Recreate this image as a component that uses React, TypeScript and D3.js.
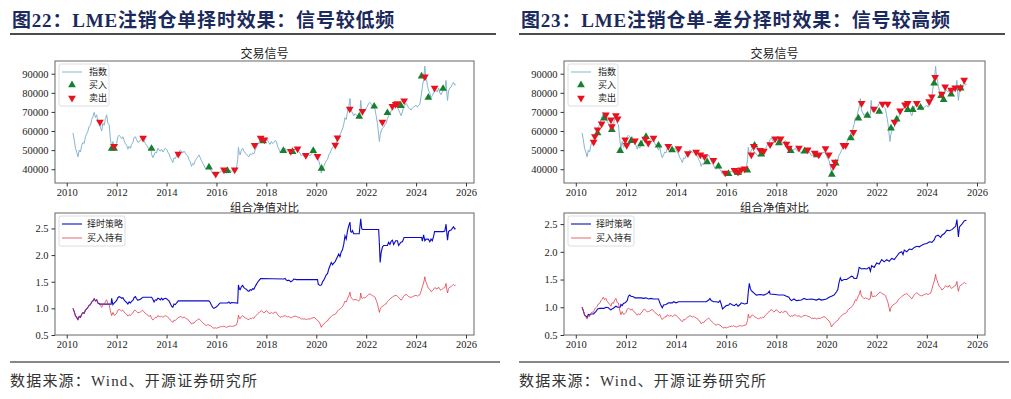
import React, { useEffect, useRef } from 'react'
import * as d3 from 'd3'

const W = 1011
const H = 399

// LME copper index, [year, price]
const copperIndex: [number, number][] = [
  [2010.25, 59000], [2010.30, 55500], [2010.35, 51000], [2010.40, 49000], [2010.45, 46500], [2010.50, 50000],
  [2010.55, 49000], [2010.60, 52500], [2010.65, 54000], [2010.70, 53500], [2010.75, 57000], [2010.80, 58500],
  [2010.85, 60000], [2010.90, 62500], [2010.95, 63000], [2011.00, 66000], [2011.05, 67500], [2011.10, 69800],
  [2011.15, 67000], [2011.20, 68500], [2011.25, 65000], [2011.30, 64000], [2011.35, 62000], [2011.40, 60000],
  [2011.45, 64000], [2011.50, 63000], [2011.55, 66500], [2011.60, 68500], [2011.65, 64000], [2011.70, 63500],
  [2011.75, 56000], [2011.80, 51000], [2011.85, 54500], [2011.90, 51500], [2011.95, 52000], [2012.00, 53500],
  [2012.05, 57000], [2012.10, 57800], [2012.15, 57000], [2012.20, 56000], [2012.25, 57000], [2012.30, 55000],
  [2012.35, 53500], [2012.40, 52500], [2012.45, 50500], [2012.50, 52000], [2012.55, 51000], [2012.60, 53000],
  [2012.65, 54000], [2012.70, 56500], [2012.75, 57000], [2012.80, 55500], [2012.85, 54000], [2012.90, 54500],
  [2012.95, 55000], [2013.00, 56000], [2013.05, 56800], [2013.10, 55000], [2013.15, 53500], [2013.20, 52500],
  [2013.25, 51500], [2013.30, 50000], [2013.35, 51500], [2013.40, 48000], [2013.45, 46000], [2013.50, 47500],
  [2013.55, 49000], [2013.60, 48500], [2013.65, 51000], [2013.70, 50000], [2013.75, 49500], [2013.80, 50500],
  [2013.85, 49000], [2013.90, 50000], [2013.95, 51000], [2014.00, 50500], [2014.05, 49000], [2014.10, 48000],
  [2014.15, 46000], [2014.20, 45000], [2014.25, 43500], [2014.30, 46000], [2014.35, 45500], [2014.40, 47000],
  [2014.45, 48500], [2014.50, 49000], [2014.55, 50000], [2014.60, 49500], [2014.65, 48500], [2014.70, 49500],
  [2014.75, 48500], [2014.80, 47500], [2014.85, 47000], [2014.90, 45000], [2014.95, 44000], [2015.00, 41500],
  [2015.05, 43000], [2015.10, 42500], [2015.15, 44500], [2015.20, 45500], [2015.25, 46500], [2015.30, 47500],
  [2015.35, 46000], [2015.40, 44500], [2015.45, 43000], [2015.50, 42000], [2015.55, 40500], [2015.60, 40000],
  [2015.65, 41000], [2015.70, 40500], [2015.75, 40000], [2015.80, 39000], [2015.85, 37500], [2015.90, 37000],
  [2015.95, 37500], [2016.00, 37000], [2016.05, 37500], [2016.10, 38000], [2016.15, 38500], [2016.20, 39000],
  [2016.25, 38500], [2016.30, 39500], [2016.35, 38500], [2016.40, 38000], [2016.45, 38500], [2016.50, 39000],
  [2016.55, 39500], [2016.60, 39000], [2016.65, 39200], [2016.70, 39500], [2016.75, 40000], [2016.80, 40500],
  [2016.85, 45000], [2016.88, 51500], [2016.92, 48000], [2016.95, 47500], [2017.00, 50000], [2017.05, 51000],
  [2017.10, 49500], [2017.15, 48500], [2017.20, 48000], [2017.25, 47000], [2017.30, 46500], [2017.35, 48000],
  [2017.40, 47500], [2017.45, 48500], [2017.50, 48000], [2017.55, 50000], [2017.60, 51500], [2017.65, 53000],
  [2017.70, 54000], [2017.75, 55500], [2017.80, 56500], [2017.85, 55000], [2017.90, 54000], [2017.95, 55000],
  [2018.00, 56500], [2018.05, 55000], [2018.10, 54000], [2018.15, 53000], [2018.20, 54500], [2018.25, 53500],
  [2018.30, 54000], [2018.35, 55000], [2018.40, 54500], [2018.45, 52000], [2018.50, 50500], [2018.55, 49000],
  [2018.60, 50000], [2018.65, 49500], [2018.70, 50500], [2018.75, 51000], [2018.80, 50000], [2018.85, 49500],
  [2018.90, 50000], [2018.95, 49000], [2019.00, 48500], [2019.05, 49500], [2019.10, 50000], [2019.15, 50500],
  [2019.20, 50000], [2019.25, 49500], [2019.30, 49000], [2019.35, 48500], [2019.40, 47000], [2019.45, 47500],
  [2019.50, 47000], [2019.55, 47500], [2019.60, 46500], [2019.65, 47000], [2019.70, 47500], [2019.75, 47000],
  [2019.80, 48000], [2019.85, 48500], [2019.90, 49000], [2019.95, 48500], [2020.00, 47000], [2020.05, 45500],
  [2020.10, 44500], [2020.15, 42000], [2020.20, 38000], [2020.25, 40500], [2020.30, 41500], [2020.35, 43000],
  [2020.40, 44500], [2020.45, 45000], [2020.50, 47500], [2020.55, 48500], [2020.60, 50000], [2020.65, 51500],
  [2020.70, 52000], [2020.75, 52500], [2020.80, 53500], [2020.85, 56000], [2020.90, 57500], [2020.95, 58000],
  [2021.00, 59500], [2021.05, 61000], [2021.10, 63500], [2021.15, 67000], [2021.20, 66000], [2021.25, 70000],
  [2021.30, 72500], [2021.35, 77000], [2021.38, 72000], [2021.42, 70000], [2021.45, 69500], [2021.50, 68000],
  [2021.55, 69000], [2021.60, 68500], [2021.65, 68000], [2021.70, 67000], [2021.75, 69000], [2021.78, 76000],
  [2021.82, 70500], [2021.85, 70000], [2021.90, 71000], [2021.95, 70500], [2022.00, 72000], [2022.05, 73000],
  [2022.10, 74500], [2022.15, 75000], [2022.20, 74000], [2022.25, 73000], [2022.30, 72500], [2022.35, 71500],
  [2022.40, 68000], [2022.45, 64000], [2022.50, 58000], [2022.53, 54500], [2022.56, 58000], [2022.60, 60000],
  [2022.65, 61500], [2022.70, 62000], [2022.75, 63500], [2022.80, 64000], [2022.85, 66500], [2022.90, 68000],
  [2022.95, 69000], [2023.00, 70500], [2023.05, 71500], [2023.10, 72500], [2023.15, 73000], [2023.20, 73500],
  [2023.25, 72500], [2023.30, 71000], [2023.35, 69500], [2023.40, 68000], [2023.45, 70000], [2023.50, 72500],
  [2023.55, 73500], [2023.60, 74500], [2023.65, 73500], [2023.70, 72000], [2023.75, 71500], [2023.80, 71000],
  [2023.85, 72000], [2023.90, 72500], [2023.95, 73000], [2024.00, 73500], [2024.05, 72500], [2024.10, 73500],
  [2024.15, 74000], [2024.20, 78000], [2024.25, 83000], [2024.30, 87000], [2024.35, 94000], [2024.38, 89000],
  [2024.42, 87000], [2024.45, 84000], [2024.50, 81000], [2024.55, 80000], [2024.60, 77500], [2024.65, 78500],
  [2024.70, 80000], [2024.75, 82000], [2024.80, 81000], [2024.85, 80500], [2024.90, 82500], [2024.95, 80000],
  [2025.00, 79000], [2025.05, 80500], [2025.10, 81500], [2025.15, 82000], [2025.20, 86500], [2025.23, 80000],
  [2025.26, 76000], [2025.30, 81000], [2025.35, 82500], [2025.40, 83000], [2025.45, 84500], [2025.50, 85500],
  [2025.55, 84000], [2025.58, 84500],
]

// low-frequency signals (figure 22)
const buyLow: [number, number][] = [
  [2011.8, 50800], [2011.9, 50800], [2013.4, 50800], [2015.7, 41000], [2016.44, 39200], [2017.87, 54800],
  [2018.68, 49700], [2019.05, 49200], [2019.88, 49700], [2020.21, 40400], [2021.72, 67600], [2022.32, 72900],
  [2022.85, 69500], [2023.39, 73200], [2024.22, 88700], [2024.49, 77500], [2025.08, 82200],
]
const sellLow: [number, number][] = [
  [2011.33, 64700], [2011.9, 52000], [2013.06, 56300], [2014.47, 48000], [2015.97, 37500], [2016.3, 39700],
  [2016.73, 39700], [2017.53, 52500], [2017.77, 56300], [2017.92, 55400], [2018.98, 49400], [2019.25, 50700],
  [2019.58, 47300], [2020.05, 46800], [2020.76, 52700], [2020.85, 56500], [2021.34, 71600], [2021.85, 70400],
  [2022.65, 64700], [2023.05, 73000], [2023.18, 74000], [2023.25, 74400], [2023.52, 75900], [2024.35, 88400],
  [2024.74, 82500],
]

// high-frequency signals (figure 23)
const buyHigh: [number, number][] = [
  [2010.87, 58900], [2011.13, 66700], [2011.44, 60700], [2011.77, 49700], [2012.21, 54900], [2012.6, 53200],
  [2012.8, 57000], [2013.3, 52500], [2013.84, 50100], [2015.24, 43800], [2015.69, 41600], [2016.09, 37600],
  [2016.47, 38100], [2016.84, 39500], [2017.13, 52500], [2017.4, 47800], [2018.1, 53700], [2018.57, 49700],
  [2019.12, 49400], [2019.61, 47400], [2020.21, 37200], [2020.37, 43100], [2020.97, 56300], [2021.27, 66700],
  [2021.63, 68100], [2022.1, 70200], [2022.57, 61500], [2022.8, 66200], [2023.24, 71100], [2023.44, 71100],
  [2023.75, 72300], [2024.29, 85000], [2024.57, 78500], [2024.67, 76300], [2024.97, 79200], [2025.35, 82400],
]
const sellHigh: [number, number][] = [
  [2010.71, 54200], [2010.76, 57200], [2010.87, 60700], [2011.03, 63800], [2011.2, 68500], [2011.4, 65900],
  [2011.44, 62400], [2011.6, 68100], [2011.67, 66400], [2011.97, 55400], [2012.03, 52500], [2012.36, 54900],
  [2012.77, 55800], [2012.89, 53700], [2013.1, 56300], [2013.69, 52000], [2014.1, 50800], [2014.47, 48200],
  [2014.8, 49000], [2014.97, 47600], [2015.13, 46700], [2015.49, 44700], [2015.96, 38100], [2016.33, 39500],
  [2016.47, 38600], [2016.6, 39800], [2016.73, 40300], [2017.0, 47600], [2017.1, 52000], [2017.35, 50000],
  [2017.5, 49500], [2017.75, 53000], [2017.95, 56000], [2018.17, 56000], [2018.4, 53200], [2018.5, 51100],
  [2018.9, 51100], [2019.25, 50200], [2019.53, 48500], [2019.69, 47600], [2019.96, 50800], [2020.09, 47600],
  [2020.27, 41600], [2020.33, 43800], [2020.67, 52500], [2020.76, 52500], [2021.07, 59400], [2021.4, 74500],
  [2021.89, 71600], [2022.23, 74200], [2022.44, 74200], [2022.71, 64700], [2022.93, 70600], [2023.13, 73700],
  [2023.24, 74500], [2023.6, 74500], [2024.09, 75400], [2024.2, 78000], [2024.33, 88100], [2024.6, 79400],
  [2024.73, 83200], [2024.97, 81500], [2025.13, 82700], [2025.33, 82700], [2025.49, 86700],
]

// strategy net value, [year, nav]
const navLow: [number, number][] = [
  [2010.25, 1.0], [2010.30, 0.94], [2010.35, 0.86], [2010.40, 0.83], [2010.45, 0.79], [2010.50, 0.85],
  [2010.55, 0.83], [2010.60, 0.89], [2010.65, 0.92], [2010.70, 0.91], [2010.75, 0.97], [2010.80, 0.99],
  [2010.85, 1.02], [2010.90, 1.06], [2010.95, 1.07], [2011.00, 1.12], [2011.05, 1.14], [2011.10, 1.18],
  [2011.15, 1.14], [2011.20, 1.16], [2011.25, 1.10], [2011.33, 1.08], [2011.78, 1.08], [2011.80, 1.19],
  [2011.85, 1.07], [2011.90, 1.10], [2011.95, 1.12], [2012.00, 1.15], [2012.05, 1.20], [2012.10, 1.22],
  [2012.15, 1.21], [2012.20, 1.19], [2012.25, 1.20], [2012.30, 1.16], [2012.35, 1.13], [2012.40, 1.11],
  [2012.45, 1.08], [2012.50, 1.12], [2012.55, 1.10], [2012.60, 1.13], [2012.65, 1.15], [2012.70, 1.20],
  [2012.75, 1.22], [2012.80, 1.18], [2012.85, 1.15], [2012.90, 1.16], [2012.95, 1.17], [2013.00, 1.19],
  [2013.06, 1.21], [2013.40, 1.21], [2013.45, 1.17], [2013.50, 1.12], [2013.55, 1.16], [2013.60, 1.15],
  [2013.65, 1.19], [2013.70, 1.18], [2013.75, 1.16], [2013.80, 1.19], [2013.85, 1.16], [2013.90, 1.18],
  [2013.95, 1.19], [2014.00, 1.18], [2014.05, 1.16], [2014.10, 1.14], [2014.15, 1.09], [2014.20, 1.04],
  [2014.25, 1.02], [2014.30, 1.08], [2014.35, 1.07], [2014.40, 1.10], [2014.47, 1.14], [2015.70, 1.14],
  [2015.75, 1.11], [2015.80, 1.06], [2015.85, 1.02], [2015.90, 1.00], [2015.97, 1.02], [2016.00, 1.03],
  [2016.05, 1.05], [2016.10, 1.08], [2016.15, 1.10], [2016.44, 1.10], [2016.50, 1.12], [2016.55, 1.09],
  [2016.60, 1.11], [2016.85, 1.10], [2016.88, 1.44], [2016.92, 1.36], [2016.95, 1.35], [2017.00, 1.41],
  [2017.05, 1.43], [2017.10, 1.39], [2017.15, 1.37], [2017.20, 1.36], [2017.25, 1.33], [2017.30, 1.32],
  [2017.35, 1.35], [2017.40, 1.34], [2017.45, 1.37], [2017.50, 1.36], [2017.55, 1.41], [2017.60, 1.45],
  [2017.65, 1.49], [2017.70, 1.52], [2017.77, 1.56], [2018.70, 1.55], [2018.75, 1.56], [2018.80, 1.53],
  [2018.85, 1.52], [2018.90, 1.53], [2018.98, 1.50], [2019.05, 1.52], [2019.10, 1.55], [2019.20, 1.54],
  [2020.05, 1.54], [2020.08, 1.45], [2020.15, 1.43], [2020.21, 1.44], [2020.25, 1.50], [2020.30, 1.53],
  [2020.35, 1.58], [2020.40, 1.63], [2020.45, 1.65], [2020.50, 1.74], [2020.55, 1.80], [2020.60, 1.86],
  [2020.65, 1.82], [2020.70, 1.85], [2020.75, 1.87], [2020.80, 1.92], [2020.85, 1.97], [2020.90, 2.02],
  [2020.95, 1.97], [2021.00, 2.06], [2021.05, 2.10], [2021.10, 2.20], [2021.15, 2.36], [2021.20, 2.30],
  [2021.25, 2.45], [2021.30, 2.55], [2021.35, 2.62], [2021.38, 2.44], [2021.42, 2.43], [2021.45, 2.46],
  [2021.50, 2.40], [2021.72, 2.40], [2021.78, 2.68], [2021.82, 2.50], [2021.85, 2.48], [2022.50, 2.48],
  [2022.53, 2.20], [2022.56, 1.86], [2022.60, 2.05], [2022.65, 2.15], [2022.70, 2.18], [2022.85, 2.18],
  [2022.90, 2.24], [2022.95, 2.20], [2023.00, 2.26], [2023.05, 2.28], [2023.10, 2.20], [2023.18, 2.27],
  [2023.25, 2.27], [2023.30, 2.18], [2023.39, 2.24], [2023.45, 2.25], [2023.52, 2.33], [2024.22, 2.33],
  [2024.25, 2.26], [2024.30, 2.38], [2024.35, 2.27], [2024.40, 2.30], [2024.49, 2.30], [2024.55, 2.25],
  [2024.60, 2.30], [2024.65, 2.27], [2024.70, 2.35], [2024.74, 2.44], [2025.08, 2.44], [2025.15, 2.45],
  [2025.20, 2.58], [2025.23, 2.42], [2025.26, 2.28], [2025.30, 2.44], [2025.35, 2.46], [2025.40, 2.47],
  [2025.45, 2.50], [2025.50, 2.53], [2025.55, 2.49], [2025.58, 2.50],
]
const navHigh: [number, number][] = [
  [2010.25, 1.0], [2010.30, 0.94], [2010.35, 0.86], [2010.40, 0.84], [2010.45, 0.82], [2010.50, 0.87],
  [2010.55, 0.86], [2010.60, 0.88], [2010.71, 0.88], [2010.75, 0.90], [2010.80, 0.92], [2010.87, 0.97],
  [2010.95, 0.98], [2011.13, 0.98], [2011.20, 1.00], [2011.30, 0.99], [2011.40, 0.95], [2011.44, 0.97],
  [2011.50, 0.98], [2011.55, 1.00], [2011.60, 1.02], [2011.67, 1.00], [2011.77, 1.00], [2011.80, 1.05],
  [2011.85, 1.03], [2011.90, 1.07], [2011.97, 1.08], [2012.05, 1.12], [2012.10, 1.20], [2012.15, 1.22],
  [2012.20, 1.20], [2012.30, 1.19], [2012.36, 1.17], [2012.60, 1.17], [2012.70, 1.16], [2012.80, 1.17],
  [2012.90, 1.15], [2013.00, 1.16], [2013.10, 1.15], [2013.30, 1.15], [2013.35, 1.08], [2013.40, 1.03],
  [2013.45, 0.99], [2013.50, 1.04], [2013.60, 1.05], [2013.70, 1.08], [2013.85, 1.08], [2013.90, 1.10],
  [2014.00, 1.08], [2014.10, 1.10], [2015.20, 1.10], [2015.30, 1.13], [2015.35, 1.16], [2015.40, 1.12],
  [2015.50, 1.10], [2015.60, 1.10], [2015.69, 1.09], [2015.75, 1.12], [2015.80, 1.06], [2015.85, 0.97],
  [2015.90, 0.99], [2016.00, 1.03], [2016.10, 1.04], [2016.15, 1.07], [2016.25, 1.04], [2016.33, 1.03],
  [2016.40, 1.06], [2016.47, 1.02], [2016.55, 1.05], [2016.60, 1.08], [2016.73, 1.06], [2016.84, 1.07],
  [2016.88, 1.28], [2016.92, 1.43], [2016.96, 1.34], [2017.00, 1.30], [2017.05, 1.28], [2017.10, 1.26],
  [2017.20, 1.22], [2017.35, 1.23], [2017.50, 1.22], [2017.65, 1.25], [2017.72, 1.29], [2017.75, 1.24],
  [2017.95, 1.23], [2018.10, 1.22], [2018.30, 1.22], [2018.40, 1.20], [2018.50, 1.18], [2018.55, 1.14],
  [2018.60, 1.12], [2018.70, 1.15], [2018.80, 1.12], [2019.00, 1.13], [2019.10, 1.16], [2019.20, 1.14],
  [2019.40, 1.15], [2019.60, 1.13], [2019.70, 1.15], [2019.80, 1.13], [2020.00, 1.15], [2020.10, 1.18],
  [2020.20, 1.20], [2020.30, 1.22], [2020.40, 1.28], [2020.45, 1.32], [2020.50, 1.45], [2020.55, 1.53],
  [2020.60, 1.48], [2020.70, 1.50], [2020.80, 1.50], [2020.90, 1.53], [2021.00, 1.56], [2021.05, 1.55],
  [2021.10, 1.52], [2021.20, 1.52], [2021.25, 1.60], [2021.30, 1.72], [2021.40, 1.69], [2021.50, 1.70],
  [2021.60, 1.69], [2021.70, 1.72], [2021.75, 1.65], [2021.80, 1.75], [2021.90, 1.72], [2022.00, 1.80],
  [2022.10, 1.78], [2022.20, 1.86], [2022.30, 1.82], [2022.40, 1.86], [2022.50, 1.83], [2022.60, 1.88],
  [2022.70, 1.86], [2022.80, 1.92], [2022.90, 1.98], [2023.00, 2.00], [2023.05, 1.95], [2023.10, 2.03],
  [2023.20, 2.00], [2023.30, 2.05], [2023.40, 2.04], [2023.50, 2.08], [2023.60, 2.10], [2023.70, 2.09],
  [2023.80, 2.12], [2023.90, 2.14], [2024.00, 2.15], [2024.10, 2.18], [2024.20, 2.17], [2024.30, 2.22],
  [2024.35, 2.28], [2024.45, 2.30], [2024.55, 2.26], [2024.60, 2.30], [2024.70, 2.33], [2024.80, 2.39],
  [2024.90, 2.38], [2025.00, 2.40], [2025.10, 2.44], [2025.15, 2.46], [2025.20, 2.58], [2025.23, 2.42],
  [2025.26, 2.27], [2025.30, 2.45], [2025.40, 2.50], [2025.50, 2.56], [2025.58, 2.57],
]

// buy & hold = index normalised to its first value
const holdNav: [number, number][] = copperIndex.map(d => [d[0], d[1] / copperIndex[0][1]])

const yearTicks = [2010, 2012, 2014, 2016, 2018, 2020, 2022, 2024, 2026]
const priceTicks = [40000, 50000, 60000, 70000, 80000, 90000]
const navTicks = [0.5, 1.0, 1.5, 2.0, 2.5]
const signalTitle = '交易信号'
const navTitle = '组合净值对比'
const signalLegend = ['指数', '买入', '卖出']
const navLegend = ['择时策略', '买入持有']

const xDomain: [number, number] = [2009.53, 2026.32]
const priceDomain: [number, number] = [32800, 96650]

const SERIF = "'Liberation Serif', 'Noto Sans CJK SC', serif"
const CJK = "'Noto Sans CJK SC', sans-serif"
const indexColor = '#86b5cf'
const buyColor = '#17802e'
const sellColor = '#e8121e'
const stratColor = '#0a0ac8'
const holdColor = 'rgba(226,50,66,0.75)'

function Axis({ scale, orient, ticks, y, x, fmt }: any) {
  const ref = useRef<SVGGElement>(null)
  useEffect(() => {
    const gen = orient === 'left' ? d3.axisLeft(scale) : d3.axisBottom(scale)
    gen.tickValues(ticks).tickSizeInner(3.5).tickSizeOuter(0).tickPadding(orient === 'left' ? 3 : 2).tickFormat(fmt)
    const g = d3.select(ref.current!)
    g.call(gen as any)
    g.select('.domain').remove()
    g.attr('font-family', "'Liberation Serif', serif").attr('font-size', 10.5)
    g.selectAll('line').attr('stroke', '#333')
    g.selectAll('text').attr('fill', '#222')
  }, [])
  return <g ref={ref} transform={`translate(${x || 0},${y || 0})`} />
}

const triUp = d3.symbol(d3.symbolTriangle, 26)()!

function SignalChart({ left, right, buys, sells, legendW }: any) {
  const top = 61
  const bottom = 183
  const x = d3.scaleLinear().domain(xDomain).range([left, right])
  const y = d3.scaleLinear().domain(priceDomain).range([bottom, top])
  const line = d3.line<[number, number]>().x(d => x(d[0])).y(d => y(d[1]))
  const lx = left + 4
  return (
    <g>
      <text x={(left + right) / 2} y={58} textAnchor="middle" fontFamily={CJK} fontSize={12} fill="#222">{signalTitle}</text>
      <path d={line(copperIndex)!} fill="none" stroke={indexColor} strokeWidth={1} />
      {buys.map((d: [number, number], i: number) => (
        <path key={'b' + i} d={triUp} transform={`translate(${x(d[0])},${y(d[1])})`} fill={buyColor} />
      ))}
      {sells.map((d: [number, number], i: number) => (
        <path key={'s' + i} d={triUp} transform={`translate(${x(d[0])},${y(d[1])}) rotate(180)`} fill={sellColor} />
      ))}
      <rect x={left} y={top} width={right - left} height={bottom - top} fill="none" stroke="#666" strokeWidth={1} />
      <rect x={lx} y={top + 3} width={legendW} height={42} rx={2} fill="white" fillOpacity={0.8} stroke="#d6d6d6" strokeWidth={0.8} />
      <line x1={lx + 3} x2={lx + 23} y1={72} y2={72} stroke={indexColor} strokeWidth={1} />
      <path d={triUp} transform={`translate(${lx + 13},85)`} fill={buyColor} />
      <path d={triUp} transform={`translate(${lx + 13},98) rotate(180)`} fill={sellColor} />
      {signalLegend.map((t, i) => (
        <text key={t} x={lx + 30} y={72 + i * 13} dy="0.35em" fontFamily={CJK} fontSize={9} fill="#222">{t}</text>
      ))}
      <Axis scale={y} orient="left" ticks={priceTicks} x={left} fmt={d3.format('d')} />
      <Axis scale={x} orient="bottom" ticks={yearTicks} y={bottom} fmt={d3.format('d')} />
    </g>
  )
}

function NavChart({ left, right, yMax, nav }: any) {
  const top = 213
  const bottom = 335
  const x = d3.scaleLinear().domain(xDomain).range([left, right])
  const y = d3.scaleLinear().domain([0.5, yMax]).range([bottom, top])
  const line = d3.line<[number, number]>().x(d => x(d[0])).y(d => y(d[1]))
  const lx = left + 4
  return (
    <g>
      <text x={(left + right) / 2} y={211.5} textAnchor="middle" fontFamily={CJK} fontSize={11.5} fill="#222">{navTitle}</text>
      <path d={line(nav)!} fill="none" stroke={stratColor} strokeWidth={1.1} />
      <path d={line(holdNav)!} fill="none" stroke={holdColor} strokeWidth={1} />
      <rect x={left} y={top} width={right - left} height={bottom - top} fill="none" stroke="#666" strokeWidth={1} />
      <rect x={lx} y={top + 3} width={66} height={30} rx={2} fill="white" fillOpacity={0.8} stroke="#d6d6d6" strokeWidth={0.8} />
      <line x1={lx + 3} x2={lx + 23} y1={224} y2={224} stroke={stratColor} strokeWidth={1.1} />
      <line x1={lx + 3} x2={lx + 23} y1={238} y2={238} stroke={holdColor} strokeWidth={1} />
      {navLegend.map((t, i) => (
        <text key={t} x={lx + 28} y={224 + i * 14} dy="0.35em" fontFamily={CJK} fontSize={9} fill="#222">{t}</text>
      ))}
      <Axis scale={y} orient="left" ticks={navTicks} x={left} fmt={d3.format('.1f')} />
      <Axis scale={x} orient="bottom" ticks={yearTicks} y={bottom} fmt={d3.format('d')} />
    </g>
  )
}

function Panel({ x0, title, left, right, buys, sells, yMax, nav }: any) {
  return (
    <g>
      <text x={x0 + 2} y={27} fontFamily={SERIF} fontWeight="bold" fontSize={19} letterSpacing={0.8} fill="#1b2a5c">{title}</text>
      <line x1={x0} x2={x0 + 486} y1={34} y2={34} stroke="#111" strokeWidth={1.5} />
      <SignalChart left={left} right={right} buys={buys} sells={sells} legendW={50} />
      <NavChart left={left} right={right} yMax={yMax} nav={nav} />
      <line x1={x0} x2={x0 + 490} y1={362} y2={362} stroke="#111" strokeWidth={1.2} />
      <text x={x0} y={386} fontFamily={SERIF} fontSize={15} letterSpacing={1.2} fill="#333">数据来源：Wind、开源证券研究所</text>
    </g>
  )
}

export default function App() {
  return (
    <svg width={W} height={H} style={{ position: 'absolute', left: 0, top: 0, background: '#fff' }}>
      <rect width={W} height={H} fill="#fff" />
      <Panel x0={10} title="图22：LME注销仓单择时效果：信号较低频" left={55} right={474}
        buys={buyLow} sells={sellLow} yMax={2.79} nav={navLow} />
      <Panel x0={519} title="图23：LME注销仓单-差分择时效果：信号较高频" left={564} right={985}
        buys={buyHigh} sells={sellHigh} yMax={2.70} nav={navHigh} />
    </svg>
  )
}
